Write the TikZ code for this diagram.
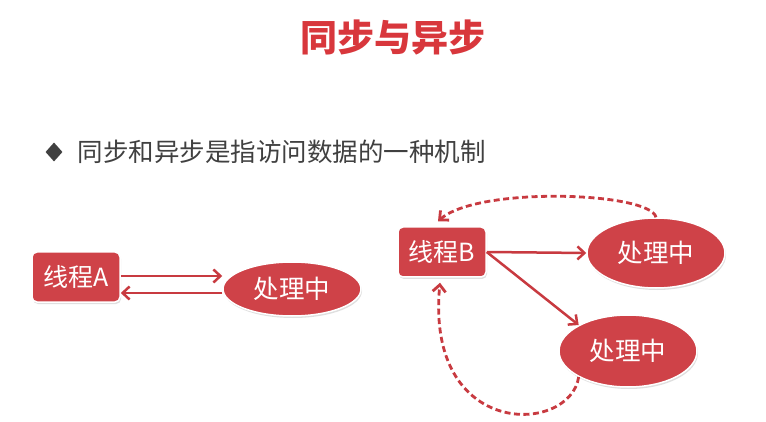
\documentclass[tikz,border=0pt]{standalone}
\usepackage{fontspec}
\setmainfont{Noto Sans CJK SC}
\usetikzlibrary{shapes.geometric,shadows,arrows.meta}
\definecolor{thred}{RGB}{207,66,72}
\definecolor{titlered}{RGB}{216,55,60}
\definecolor{linered}{RGB}{200,58,64}
\definecolor{textgray}{RGB}{64,64,64}
\tikzset{
  thread/.style={draw=white,line width=1.5pt,fill=thred,rounded corners=5pt,
    minimum width=88pt,minimum height=50pt,inner sep=0pt,text=white,
    font=\fontsize{25}{28}\selectfont,
    drop shadow={opacity=0.25,shadow xshift=1pt,shadow yshift=-2pt}},
  work/.style={ellipse,draw=white,line width=1.5pt,fill=thred,
    minimum width=138pt,minimum height=54pt,inner sep=0pt,text=white,
    font=\fontsize{25.5}{28}\selectfont,
    drop shadow={opacity=0.25,shadow xshift=1pt,shadow yshift=-2pt}},
  call/.style={draw=linered,line width=2.5pt,-{Straight Barb[length=7pt,width=13pt]}},
  back/.style={call,line width=2.8pt,dash pattern=on 6pt off 3.5pt}
}
\begin{document}
\begin{tikzpicture}[x=1pt,y=-1pt]
  \useasboundingbox[fill=white] (0,0) rectangle (766,422);
  \node (title) at (393,37) [text=titlered,font=\fontsize{37}{40}\selectfont\bfseries] {同步与异步};
  \node (dot) at (54,152) [diamond,fill=textgray,minimum width=17pt,minimum height=19pt,inner sep=0pt] {};
  \node (line) at (74,152) [anchor=west,text=textgray,font=\fontsize{25.5}{28}\selectfont] {同步和异步是指访问数据的一种机制};
  % synchronous
  \node (ta) at (76,277) [thread] {线程A};
  \node (wa) at (292,289) [work] {处理中};
  % asynchronous
  \node (tb) at (442,252) [thread] {线程B};
  \node (wb) at (656,253) [work,minimum height=70pt] {处理中};
  \node (wc) at (628,351) [work,minimum height=72pt] {处理中};
  \begin{scope}[call]
    \draw (ta.east |- 0,276) -- (wa.west |- 0,276);
    \draw (wa.west |- 0,293) -- (ta.east |- 0,293);
    \draw (tb.east) -- (wb.west);
    \draw (tb.east) -- (wc.north west);
  \end{scope}
  \begin{scope}[back]
    \draw (wb.north) .. controls (650,192) and (478,186) .. ([shift={(-4pt,5pt)}]tb.north);
    \draw (wc.south west) .. controls (570,435) and (425,440) .. ([shift={(-2pt,-5pt)}]tb.south);
  \end{scope}
\end{tikzpicture}
\end{document}
